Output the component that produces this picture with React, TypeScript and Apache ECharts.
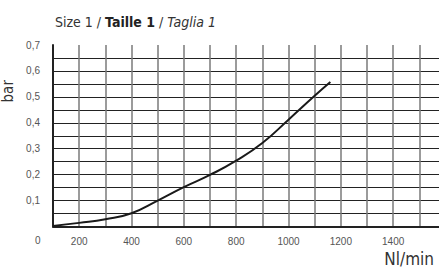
import React, { useEffect, useRef } from "react";
import * as echarts from "echarts";

const flowValues = [100, 200, 300, 400, 500, 600, 700, 800, 900, 1000, 1100, 1160];
const pressureValues = [0.002, 0.014, 0.028, 0.051, 0.1, 0.152, 0.199, 0.254, 0.322, 0.412, 0.504, 0.557];
const xTickLabels = [200, 400, 600, 800, 1000, 1200, 1400];
const yTickLabels = [0.1, 0.2, 0.3, 0.4, 0.5, 0.6, 0.7];

export default function App() {
  const ref = useRef<HTMLDivElement>(null);
  useEffect(() => {
    if (!ref.current) return;
    const chart = echarts.init(ref.current, null, { renderer: "svg" });
    const font = "'DejaVu Sans Condensed', 'Liberation Sans Narrow', 'Roboto', sans-serif";
    chart.setOption({
      animation: false,
      backgroundColor: "#fff",
      title: {
        text: "{n|Size 1 / }{b|Taille 1}{n| / }{i|Taglia 1}",
        left: 50,
        top: 10,
        textStyle: {
          fontWeight: "normal",
          rich: {
            n: { fontFamily: font, fontSize: 14, color: "#333", fontWeight: "normal" },
            b: { fontFamily: font, fontSize: 14, color: "#222", fontWeight: "bold" },
            i: { fontFamily: font, fontSize: 14, color: "#333", fontStyle: "italic", fontWeight: "normal" },
          },
        },
      },
      grid: { left: 53, right: -6.5, top: 45, bottom: 41.5, containLabel: false, outerBoundsMode: "none" },
      xAxis: {
        type: "value",
        min: 100,
        max: 1600,
        interval: 100,
        axisLine: { show: true, lineStyle: { color: "#222", width: 2 } },
        axisTick: { show: false },
        axisLabel: {
          margin: 10,
          fontFamily: "'Liberation Sans', Arial, sans-serif",
          fontSize: 10,
          color: "#555",
          formatter: (v: number) => (xTickLabels.includes(v) ? String(v) : ""),
        },
        splitLine: { show: true, lineStyle: { color: "#7a7a7a", width: 1.5 } },
      },
      yAxis: {
        type: "value",
        min: 0,
        max: 0.7,
        interval: 0.05,
        name: "bar",
        nameLocation: "middle",
        nameGap: 33,
        nameRotate: 90,
        nameTextStyle: { fontFamily: font, fontSize: 15, color: "#333", padding: [0, 0, 0, 89] },
        axisLine: { show: true, lineStyle: { color: "#222", width: 2 } },
        axisTick: { show: false },
        axisLabel: {
          margin: 13,
          fontFamily: "'Liberation Sans', Arial, sans-serif",
          fontSize: 10,
          color: "#555",
          formatter: (v: number) => {
            const r = Math.round(v * 100) / 100;
            const hit = yTickLabels.find((t) => Math.abs(t - r) < 1e-6);
            return hit !== undefined ? hit.toFixed(1).replace(".", ",") : "";
          },
        },
        splitLine: { show: true, showMaxLine: false, lineStyle: { color: "#222", width: 1 } },
      },
      graphic: [
        {
          type: "text",
          left: 35,
          top: 235,
          style: { text: "0", fontFamily: "'Liberation Sans', Arial, sans-serif", fontSize: 10, fill: "#555" },
        },
        {
          type: "text",
          right: 5,
          top: 250,
          style: { text: "Nl/min", fontFamily: font, fontSize: 17, fill: "#333" },
        },
      ],
      series: [
        {
          type: "line",
          data: flowValues.map((x, i) => [x, pressureValues[i]]),
          smooth: 0.5,
          symbol: "none",
          lineStyle: { color: "#1a1a1a", width: 2 },
        },
      ],
    });
    return () => chart.dispose();
  }, []);
  return <div ref={ref} style={{ position: "fixed", left: 0, top: 0, width: 439, height: 268 }} />;
}
